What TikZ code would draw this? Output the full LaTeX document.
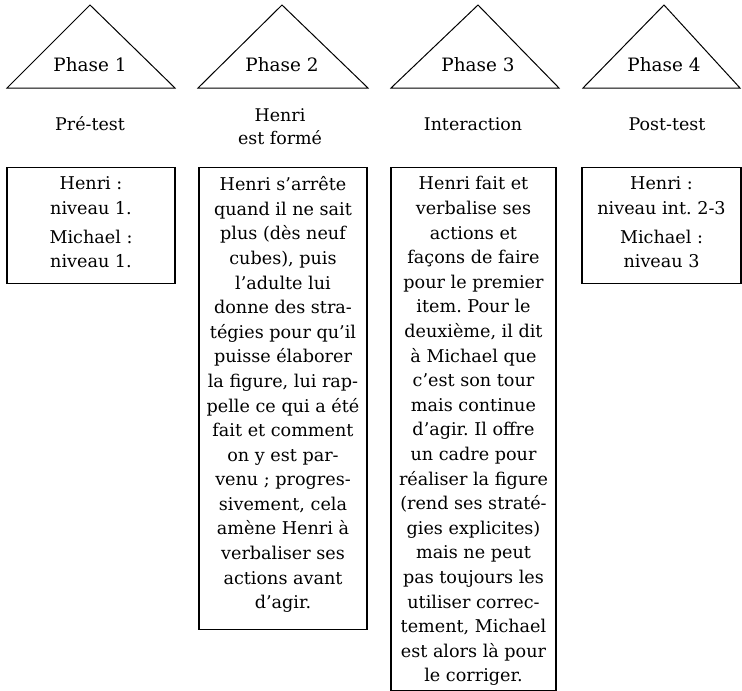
\documentclass[tikz,border=0pt]{standalone}
\usepackage{fontspec}
\setmainfont{DejaVu Serif}
\usepackage{tikz}
\frenchspacing

\begin{document}
\begin{tikzpicture}[x=1pt, y=-1pt, line width=1pt,
		phase/.style={font=\fontsize{16}{20}\selectfont, scale=1.15},
		titre/.style={font=\fontsize{16}{21}\selectfont, align=center, scale=1.09},
		cadre/.style={draw, line width=1.3pt, anchor=north, inner sep=0pt},
		texte/.style={font=\fontsize{16}{22.36}\selectfont, align=center, anchor=north,
			inner sep=0pt, scale=1.1}]
				\useasboundingbox (0,0) rectangle (742,691);
				\foreach \l/\t/\r [count=\i] in {7/90/175, 198/282/368, 391/478/559, 583/664/740} {
					\draw (\l,88) -- (\t,5) -- (\r,88) -- cycle;
					\node[phase] (p\i) at (\t,65) {Phase \i};
				}
				\node[titre] (t1) at (90,124) {Pré-test};
				\node[titre] (t2) at (280,126.5) {Henri\\est formé};
				\node[titre] (t3) at (473,124) {Interaction};
				\node[titre] (t4) at (667,124) {Post-test};
				% cadres
				\node[cadre, minimum width=168, minimum height=116] (c1) at (91,167) {};
				\node[cadre, minimum width=168, minimum height=462] (c2) at (283,167) {};
				\node[cadre, minimum width=165, minimum height=523] (c3) at (473.5,167) {};
				\node[cadre, minimum width=159, minimum height=116] (c4) at (661.5,167) {};
				\node[texte] (x1) at (91,176) {Henri :\\niveau 1.\\[4pt]Michael :\\niveau 1.};
				\node[texte] (x2) at (283,176)
					{Henri s'arrête\\quand il ne sait\\plus (dès neuf\\cubes), puis\\l'adulte lui\\donne des stra-\\tégies pour qu'il\\puisse élaborer\\la figure, lui rap-\\pelle ce qui a été\\fait et comment\\on y est par-\\venu ; progres-\\sivement, cela\\amène Henri à\\verbaliser ses\\actions avant\\d'agir.};
				\node[texte] (x3) at (473.5,176)
					{Henri fait et\\verbalise ses\\actions et\\façons de faire\\pour le premier\\item. Pour le\\deuxième, il dit\\à Michael que\\c'est son tour\\mais continue\\d'agir. Il offre\\un cadre pour\\réaliser la figure\\(rend ses straté-\\gies explicites)\\mais ne peut\\pas toujours les\\utiliser correc-\\tement, Michael\\est alors là pour\\le corriger.};
				\node[texte] (x4) at (661.5,176) {Henri :\\niveau int. 2-3\\[4pt]Michael :\\niveau 3};
			\end{tikzpicture}
\end{document}
